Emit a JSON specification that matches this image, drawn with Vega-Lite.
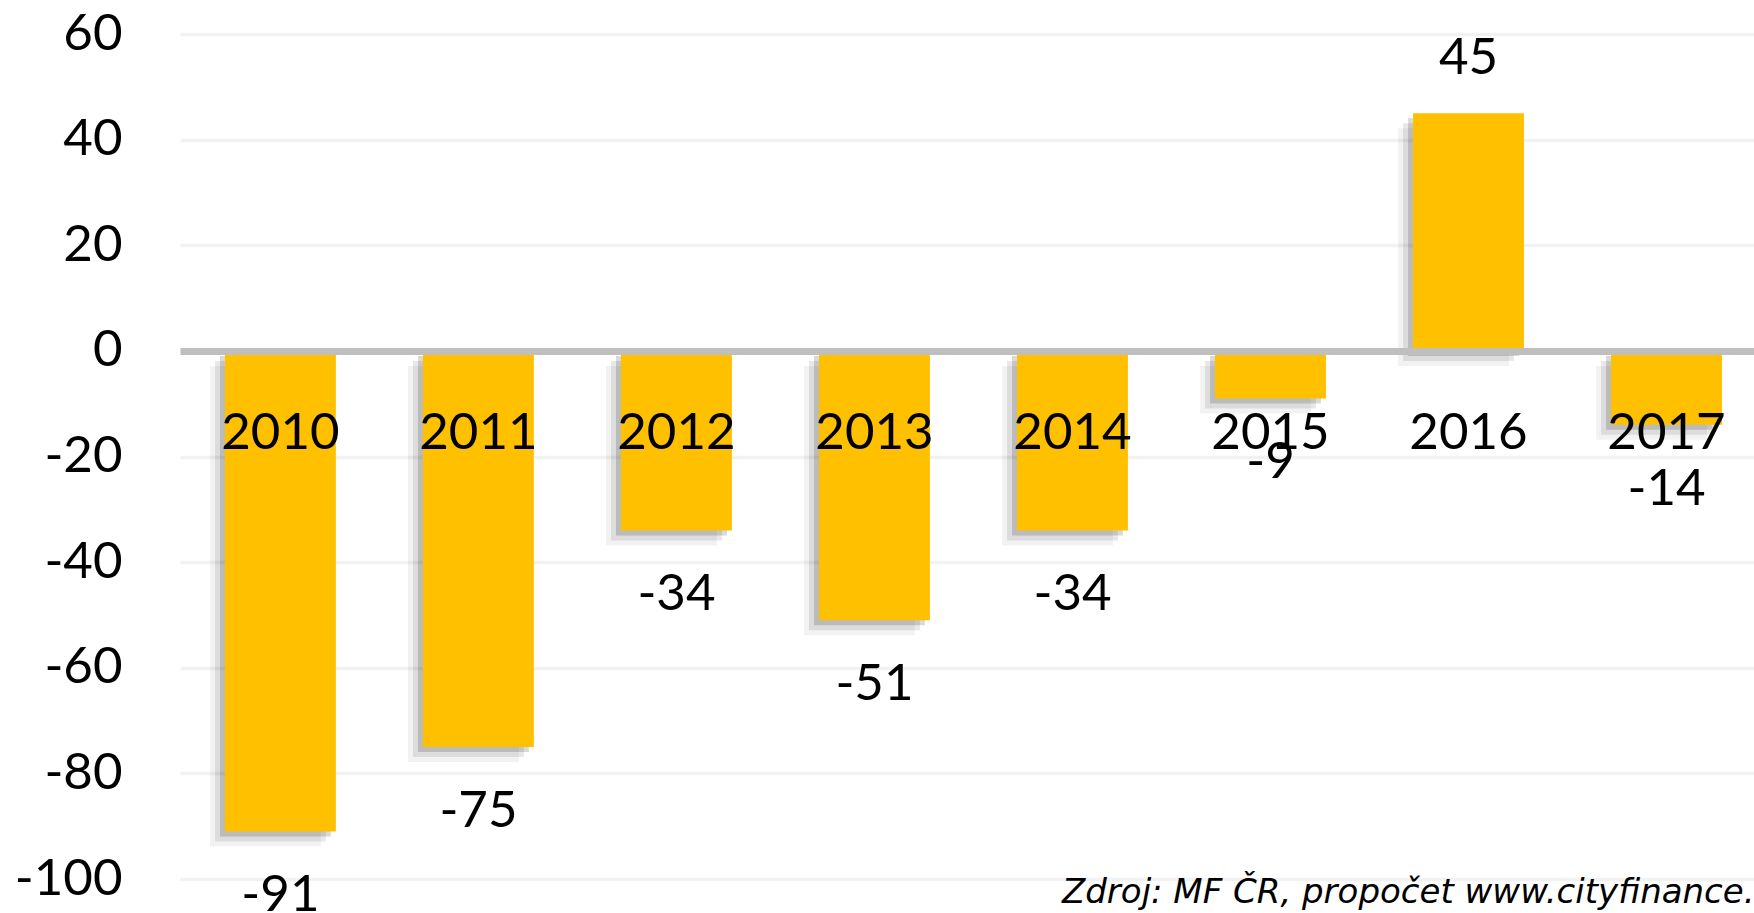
{
  "$schema": "https://vega.github.io/schema/vega-lite/v6.json",
  "width": 1574,
  "height": 845,
  "autosize": {"type": "none"},
  "padding": {"left": 180, "top": 34, "right": 0, "bottom": 34},
  "background": "white",
  "config": {
    "font": "Lato",
    "view": {"stroke": null},
    "axis": {"labelFont": "Lato"},
    "text": {"font": "Lato"}
  },
  "title": {
    "text": "Zdroj: MF ČR, propočet www.cityfinance.cz",
    "orient": "bottom",
    "anchor": "start",
    "frame": "group",
    "dx": 882,
    "offset": -18,
    "fontSize": 34,
    "fontStyle": "italic",
    "fontWeight": "normal",
    "font": "DejaVu Sans",
    "color": "#000000",
    "baseline": "alphabetic"
  },
  "data": {
    "values": [
      {"year": "2010", "value": -91},
      {"year": "2011", "value": -75},
      {"year": "2012", "value": -34},
      {"year": "2013", "value": -51},
      {"year": "2014", "value": -34},
      {"year": "2015", "value": -9},
      {"year": "2016", "value": 45},
      {"year": "2017", "value": -14}
    ]
  },
  "encoding": {
    "x": {
      "field": "year",
      "type": "ordinal",
      "scale": {"paddingInner": 0.44, "paddingOuter": 0.1944, "align": 0.584},
      "axis": {
        "orient": "bottom",
        "offset": -528,
        "title": null,
        "domainColor": "#BFBFBF",
        "domainWidth": 7,
        "ticks": false,
        "grid": false,
        "labelAngle": 0,
        "labelPadding": 57,
        "labelFontSize": 51,
        "labelColor": "#000000",
        "zindex": 1
      }
    },
    "y": {
      "field": "value",
      "type": "quantitative",
      "scale": {"domain": [-100, 60], "nice": false, "zero": true},
      "axis": {
        "title": null,
        "values": [-100, -80, -60, -40, -20, 0, 20, 40, 60],
        "labelExpr": "'' + datum.value",
        "ticks": false,
        "domain": false,
        "grid": true,
        "gridColor": "#F2F2F2",
        "gridWidth": 3.5,
        "labelPadding": 58,
        "labelFontSize": 51,
        "labelColor": "#000000",
        "zindex": 0
      }
    }
  },
  "layer": [
    {
      "mark": {"type": "bar", "color": "#000000", "opacity": 0.05, "xOffset": -15, "yOffset": 15, "y2Offset": 15},
      "encoding": {"y2": {"datum": 0}}
    },
    {
      "mark": {"type": "bar", "color": "#000000", "opacity": 0.09, "xOffset": -10, "yOffset": 10, "y2Offset": 10},
      "encoding": {"y2": {"datum": 0}}
    },
    {
      "mark": {"type": "bar", "color": "#000000", "opacity": 0.15, "xOffset": -5, "yOffset": 5, "y2Offset": 5},
      "encoding": {"y2": {"datum": 0}}
    },
    {
      "mark": {"type": "bar", "color": "#FFC000"},
      "encoding": {"y2": {"datum": 0}}
    },
    {
      "transform": [{"filter": "datum.value < 0"}],
      "mark": {"type": "text", "baseline": "middle", "dy": 65, "fontSize": 51, "color": "#000000"},
      "encoding": {"text": {"field": "value", "type": "nominal"}}
    },
    {
      "transform": [{"filter": "datum.value >= 0"}],
      "mark": {"type": "text", "baseline": "middle", "dy": -54, "fontSize": 51, "color": "#000000"},
      "encoding": {"text": {"field": "value", "type": "nominal"}}
    }
  ]
}
